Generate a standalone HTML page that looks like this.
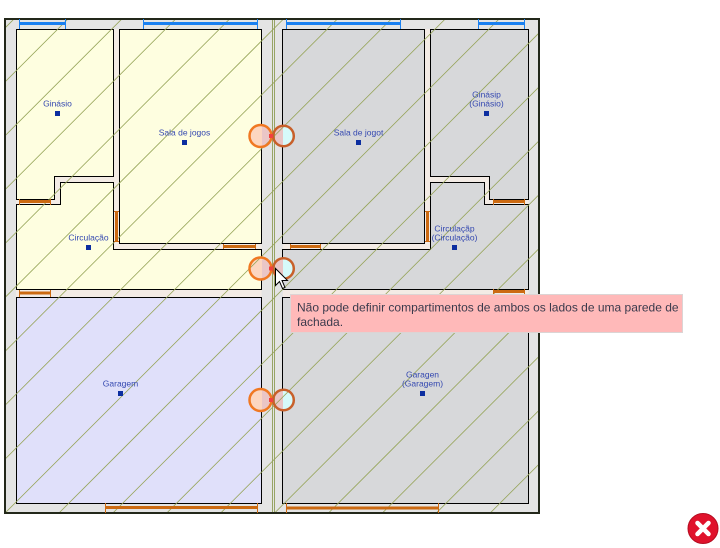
<!DOCTYPE html>
<html><head><meta charset="utf-8"><style>
html,body{margin:0;padding:0;background:#fff;}
svg{display:block;}
.lbl{font-family:"Liberation Sans",sans-serif;font-size:8.5px;fill:#3448b0;text-anchor:middle;}
.tip{font-family:"Liberation Sans",sans-serif;font-size:12px;fill:#3a3a4c;}
</style></head><body>
<svg width="720" height="548" viewBox="0 0 720 548" xmlns="http://www.w3.org/2000/svg">
<defs>
<clipPath id="plan"><rect x="5" y="19" width="534" height="494"/></clipPath>
<clipPath id="c1"><circle cx="260.5" cy="136" r="11"/><circle cx="283.5" cy="136" r="10.3"/></clipPath>
<clipPath id="c2"><circle cx="260.5" cy="268.5" r="11"/><circle cx="283.5" cy="268.5" r="10.3"/></clipPath>
<clipPath id="c3"><circle cx="260.5" cy="400" r="11"/><circle cx="283.5" cy="400" r="10.3"/></clipPath>
</defs>
<!-- wall base -->
<rect x="5" y="19" width="534" height="494" fill="#f3ebe5"/>
<!-- outer wall gray band -->
<path fill="#e4e4e4" fill-rule="evenodd" d="M5,19 H539 V513 H5 Z M16,29 H528.5 V503.5 H16 Z"/>
<!-- center wall -->
<rect x="261.5" y="19" width="21.5" height="494" fill="#e4e4e4"/>

<!-- rooms -->
<g stroke="#000" stroke-width="1">
<path fill="#fefee0" d="M16.5,29.5 H113.5 V176.5 H54.5 V199.5 H16.5 Z"/>
<path fill="#fefee0" d="M16.5,204.5 H60.5 V182.5 H113.5 V249.5 H261.5 V289.5 H16.5 Z"/>
<path fill="#fefee0" d="M119.5,29.5 H261.5 V243.5 H119.5 Z"/>
<path fill="#e0e0fa" d="M16.5,297.5 H261.5 V503.5 H16.5 Z"/>
<path fill="#d7d8da" d="M282.5,29.5 H424.5 V243.5 H282.5 Z"/>
<path fill="#d7d8da" d="M430.5,29.5 H528.5 V199.5 H489.5 V176.5 H430.5 Z"/>
<path fill="#d7d8da" d="M430.5,182.5 H484.5 V204.5 H528.5 V289.5 H282.5 V249.5 H430.5 Z"/>
<path fill="#d7d8da" d="M282.5,297.5 H528.5 V503.5 H282.5 Z"/>
</g>

<!-- circle fills -->
<g>
<g clip-path="url(#c1)"><rect x="240" y="120" width="22" height="32" fill="#fcd6c0"/><rect x="262" y="120" width="21" height="32" fill="#eac6c6"/><rect x="283" y="120" width="20" height="32" fill="#d6fafa"/></g>
<g clip-path="url(#c2)"><rect x="240" y="252" width="22" height="33" fill="#fcd6c0"/><rect x="262" y="252" width="21" height="33" fill="#eac6c6"/><rect x="283" y="252" width="20" height="33" fill="#d6fafa"/></g>
<g clip-path="url(#c3)"><rect x="240" y="384" width="22" height="33" fill="#fcd6c0"/><rect x="262" y="384" width="21" height="33" fill="#eac6c6"/><rect x="283" y="384" width="20" height="33" fill="#d6fafa"/></g>
</g>

<!-- center green double line -->
<g stroke="#97a464" stroke-width="1">
<line x1="272.5" y1="19" x2="272.5" y2="513"/>
<line x1="274.5" y1="19" x2="274.5" y2="513"/>
</g>

<!-- hatch -->
<g clip-path="url(#plan)" stroke="#96a458" stroke-width="0.8">
<line x1="-487" y1="520" x2="23" y2="10"/>
<line x1="-433.1" y1="520" x2="76.9" y2="10"/>
<line x1="-379.2" y1="520" x2="130.8" y2="10"/>
<line x1="-325.3" y1="520" x2="184.7" y2="10"/>
<line x1="-271.4" y1="520" x2="238.6" y2="10"/>
<line x1="-217.5" y1="520" x2="292.5" y2="10"/>
<line x1="-163.6" y1="520" x2="346.4" y2="10"/>
<line x1="-109.7" y1="520" x2="400.3" y2="10"/>
<line x1="-55.8" y1="520" x2="454.2" y2="10"/>
<line x1="-1.9" y1="520" x2="508.1" y2="10"/>
<line x1="52" y1="520" x2="562" y2="10"/>
<line x1="105.9" y1="520" x2="615.9" y2="10"/>
<line x1="159.8" y1="520" x2="669.8" y2="10"/>
<line x1="213.7" y1="520" x2="723.7" y2="10"/>
<line x1="267.6" y1="520" x2="777.6" y2="10"/>
<line x1="321.5" y1="520" x2="831.5" y2="10"/>
<line x1="375.4" y1="520" x2="885.4" y2="10"/>
<line x1="429.3" y1="520" x2="939.3" y2="10"/>
<line x1="483.2" y1="520" x2="993.2" y2="10"/>
</g>

<!-- outer border -->
<rect x="5" y="19" width="534" height="494" fill="none" stroke="#23281a" stroke-width="2"/>

<!-- windows -->
<g fill="#1a80f0" stroke="#1a80f0">
<rect x="19" y="22" width="46" height="3" stroke="none"/>
<line x1="19.5" y1="19" x2="19.5" y2="29" stroke-width="1"/><line x1="65.5" y1="19" x2="65.5" y2="29" stroke-width="1"/>
<rect x="143" y="22" width="115" height="3" stroke="none"/>
<line x1="143.5" y1="19" x2="143.5" y2="29" stroke-width="1"/><line x1="257.5" y1="19" x2="257.5" y2="29" stroke-width="1"/>
<rect x="286" y="22" width="114" height="3" stroke="none"/>
<line x1="286.5" y1="19" x2="286.5" y2="29" stroke-width="1"/><line x1="400.5" y1="19" x2="400.5" y2="29" stroke-width="1"/>
<rect x="478" y="22" width="46" height="3" stroke="none"/>
<line x1="478.5" y1="19" x2="478.5" y2="29" stroke-width="1"/><line x1="524.5" y1="19" x2="524.5" y2="29" stroke-width="1"/>
</g>

<!-- doors -->
<g fill="#cc6a12" stroke="#cc6a12" stroke-width="1">
<rect x="19" y="200" width="32" height="3" stroke="none"/><line x1="19.5" y1="199" x2="19.5" y2="205"/><line x1="50.5" y1="199" x2="50.5" y2="205"/>
<rect x="19" y="291.5" width="32" height="3" stroke="none"/><line x1="19.5" y1="290" x2="19.5" y2="297"/><line x1="50.5" y1="290" x2="50.5" y2="297"/>
<rect x="115" y="212" width="3" height="30" stroke="none"/><line x1="114" y1="211.5" x2="119" y2="211.5"/><line x1="114" y1="241.5" x2="119" y2="241.5"/>
<rect x="223" y="245" width="33" height="3" stroke="none"/><line x1="223.5" y1="244" x2="223.5" y2="249"/><line x1="255.5" y1="244" x2="255.5" y2="249"/>
<rect x="290" y="245" width="31" height="3" stroke="none"/><line x1="290.5" y1="244" x2="290.5" y2="249"/><line x1="320.5" y1="244" x2="320.5" y2="249"/>
<rect x="426" y="212" width="3" height="30" stroke="none"/><line x1="425" y1="211.5" x2="430" y2="211.5"/><line x1="425" y1="241.5" x2="430" y2="241.5"/>
<rect x="493" y="200" width="32" height="3" stroke="none"/><line x1="493.5" y1="199" x2="493.5" y2="205"/><line x1="524.5" y1="199" x2="524.5" y2="205"/>
<rect x="493" y="290" width="32" height="3" stroke="none"/><line x1="493.5" y1="289" x2="493.5" y2="295"/><line x1="524.5" y1="289" x2="524.5" y2="295"/>
<rect x="105" y="506" width="153" height="3" stroke="none"/><line x1="105.5" y1="503" x2="105.5" y2="513"/><line x1="257.5" y1="503" x2="257.5" y2="513"/>
<rect x="286" y="506.5" width="153" height="3" stroke="none"/><line x1="286.5" y1="503" x2="286.5" y2="513"/><line x1="438.5" y1="503" x2="438.5" y2="513"/>
</g>

<!-- circle strokes -->
<g fill="none" stroke-width="2.5">
<circle cx="260.5" cy="136" r="11" stroke="#f07822"/><circle cx="283.5" cy="136" r="10.3" stroke="#c8602a"/>
<circle cx="260.5" cy="268.5" r="11" stroke="#f07822"/><circle cx="283.5" cy="268.5" r="10.3" stroke="#c8602a"/>
<circle cx="260.5" cy="400" r="11" stroke="#f07822"/><circle cx="283.5" cy="400" r="10.3" stroke="#c8602a"/>
</g>
<g fill="#f04040">
<rect x="269" y="134" width="4" height="4"/>
<rect x="269" y="266.5" width="4" height="4"/>
<rect x="269" y="398" width="4" height="4"/>
</g>

<!-- labels -->
<g fill="#0c2ea0">
<rect x="55" y="111" width="5" height="5"/>
<rect x="182" y="140" width="5" height="5"/>
<rect x="86" y="245" width="5" height="5"/>
<rect x="118" y="391" width="5" height="5"/>
<rect x="356" y="140" width="5" height="5"/>
<rect x="484" y="111" width="5" height="5"/>
<rect x="452" y="245" width="5" height="5"/>
<rect x="420" y="391" width="5" height="5"/>
</g>
<text class="lbl" x="57.5" y="106.5">Ginásio</text>
<text class="lbl" x="184.5" y="135.5">Sala de jogos</text>
<text class="lbl" x="88.5" y="240.5">Circulação</text>
<text class="lbl" x="120.5" y="386.5">Garagem</text>
<text class="lbl" x="358.5" y="135.5">Sala de jogot</text>
<text class="lbl" x="486.5" y="97.5">Ginásip</text>
<text class="lbl" x="486.5" y="106.5">(Ginásio)</text>
<text class="lbl" x="454.5" y="231.5">Circulaçãp</text>
<text class="lbl" x="454.5" y="240.5">(Circulação)</text>
<text class="lbl" x="422.5" y="377.5">Garagen</text>
<text class="lbl" x="422.5" y="386.5">(Garagem)</text>

<!-- cursor -->
<path d="M275.5,268.5 L275.5,285.5 L279.5,281.5 L282.5,288.5 L285,287.5 L282,280.5 L287.5,280.5 Z" fill="#fff" stroke="#000" stroke-width="1" stroke-linejoin="miter"/>

<!-- tooltip -->
<rect x="290.5" y="294.5" width="392" height="38" fill="#ffb9b9" stroke="#dcd4d4" stroke-width="1"/>
<text class="tip" x="297" y="311.5">Não pode definir compartimentos de ambos os lados de uma parede de</text>
<text class="tip" x="297" y="326">fachada.</text>

<!-- close icon -->
<circle cx="703" cy="528.5" r="15" fill="#e0122c" stroke="#b50c20" stroke-width="1"/>
<g stroke="#fff" stroke-width="4.5" stroke-linecap="round">
<line x1="697.5" y1="523" x2="708.5" y2="534"/>
<line x1="708.5" y1="523" x2="697.5" y2="534"/>
</g>
</svg>
</body></html>
